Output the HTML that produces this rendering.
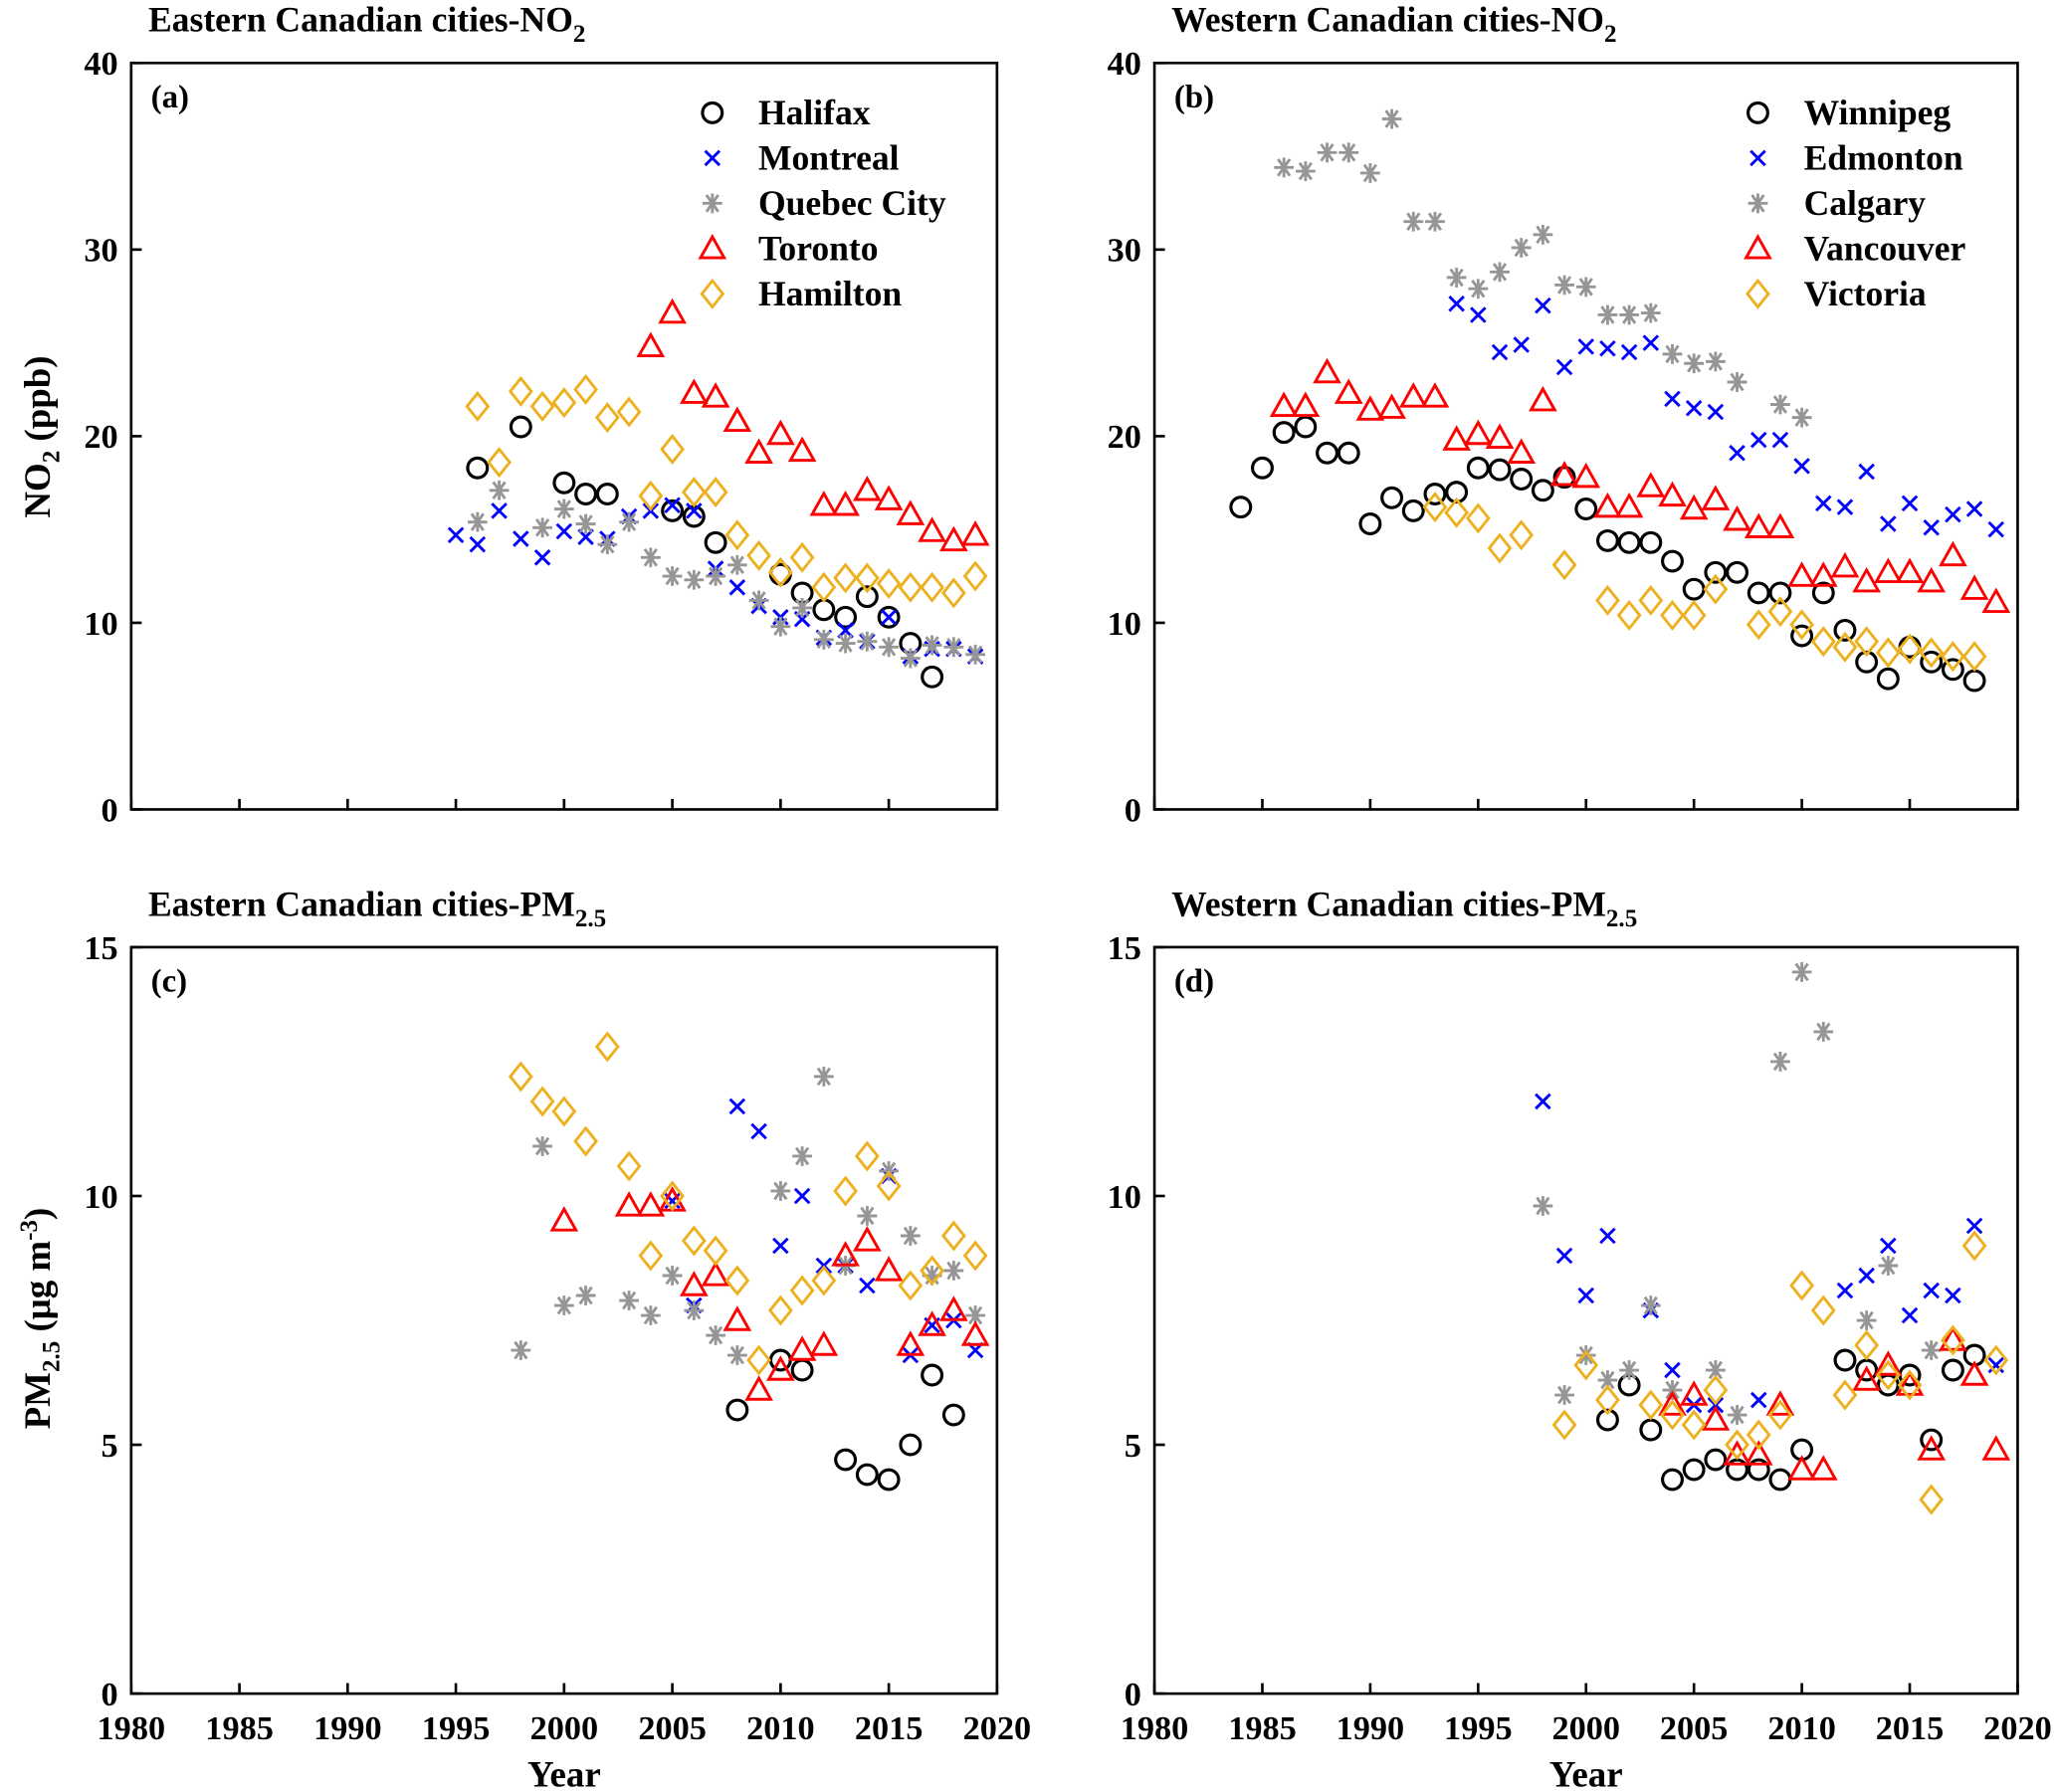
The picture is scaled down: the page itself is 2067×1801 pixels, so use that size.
<!DOCTYPE html>
<html><head><meta charset="utf-8"><style>html,body{margin:0;padding:0;background:#fff}svg{display:block}text{font-family:"Liberation Serif",serif;font-weight:bold;fill:#000}</style></head>
<body>
<svg id="chart" width="2067" height="1801" viewBox="0 0 1568 1366" preserveAspectRatio="none" xmlns="http://www.w3.org/2000/svg"></svg>
<script>
// ---- data (year, value) ----
const aYears = {
 halifax:[1996,1998,2000,2001,2002,2005,2006,2007,2010,2011,2012,2013,2014,2015,2016,2017],
 montreal:[1995,1996,1997,1998,1999,2000,2001,2002,2003,2004,2005,2006,2007,2008,2009,2010,2011,2012,2013,2014,2015,2016,2017,2018,2019],
 quebec:[1996,1997,1999,2000,2001,2002,2003,2004,2005,2006,2007,2008,2009,2010,2011,2012,2013,2014,2015,2016,2017,2018,2019],
 toronto:[2004,2005,2006,2007,2008,2009,2010,2011,2012,2013,2014,2015,2016,2017,2018,2019],
 hamilton:[1996,1997,1998,1999,2000,2001,2002,2003,2004,2005,2006,2007,2008,2009,2010,2011,2012,2013,2014,2015,2016,2017,2018,2019]};
const aVals = {
 halifax:[18.3,20.5,17.5,16.9,16.9,16.0,15.7,14.3,12.6,11.6,10.7,10.3,11.4,10.3,8.9,7.1],
 montreal:[14.7,14.2,16.0,14.5,13.5,14.9,14.6,14.5,15.7,16.0,16.3,16.0,12.9,11.9,10.9,10.3,10.2,9.2,9.6,9.0,10.3,8.2,8.6,8.6,8.2],
 quebec:[15.4,17.1,15.1,16.1,15.3,14.2,15.4,13.5,12.5,12.3,12.5,13.1,11.2,9.8,10.8,9.1,8.9,9.0,8.7,8.1,8.8,8.7,8.3],
 toronto:[24.8,26.6,22.3,22.1,20.8,19.1,20.1,19.2,16.3,16.3,17.1,16.6,15.8,14.9,14.4,14.7],
 hamilton:[21.6,18.6,22.4,21.6,21.8,22.5,21.0,21.3,16.8,19.3,17.0,17.0,14.7,13.6,12.7,13.5,11.9,12.4,12.4,12.1,11.9,11.9,11.6,12.5]};
const bYears = {
 winnipeg:[1984,1985,1986,1987,1988,1989,1990,1991,1992,1993,1994,1995,1996,1997,1998,1999,2000,2001,2002,2003,2004,2005,2006,2007,2008,2009,2010,2011,2012,2013,2014,2015,2016,2017,2018],
 edmonton:[1994,1995,1996,1997,1998,1999,2000,2001,2002,2003,2004,2005,2006,2007,2008,2009,2010,2011,2012,2013,2014,2015,2016,2017,2018,2019],
 calgary:[1986,1987,1988,1989,1990,1991,1992,1993,1994,1995,1996,1997,1998,1999,2000,2001,2002,2003,2004,2005,2006,2007,2009,2010],
 vancouver:[1986,1987,1988,1989,1990,1991,1992,1993,1994,1995,1996,1997,1998,1999,2000,2001,2002,2003,2004,2005,2006,2007,2008,2009,2010,2011,2012,2013,2014,2015,2016,2017,2018,2019],
 victoria:[1993,1994,1995,1996,1997,1999,2001,2002,2003,2004,2005,2006,2008,2009,2010,2011,2012,2013,2014,2015,2016,2017,2018]};
const bVals = {
 winnipeg:[16.2,18.3,20.2,20.5,19.1,19.1,15.3,16.7,16.0,16.9,17.0,18.3,18.2,17.7,17.1,17.8,16.1,14.4,14.3,14.3,13.3,11.8,12.7,12.7,11.6,11.6,9.3,11.6,9.6,7.9,7.0,8.7,7.9,7.5,6.9],
 edmonton:[27.1,26.5,24.5,24.9,27.0,23.7,24.8,24.7,24.5,25.0,22.0,21.5,21.3,19.1,19.8,19.8,18.4,16.4,16.2,18.1,15.3,16.4,15.1,15.8,16.1,15.0],
 calgary:[34.4,34.2,35.2,35.2,34.1,37.0,31.5,31.5,28.5,27.9,28.8,30.1,30.8,28.1,28.0,26.5,26.5,26.6,24.4,23.9,24.0,22.9,21.7,21.0],
 vancouver:[21.6,21.6,23.4,22.3,21.4,21.5,22.1,22.1,19.8,20.1,19.9,19.1,21.9,17.9,17.8,16.2,16.2,17.3,16.8,16.1,16.6,15.5,15.1,15.1,12.5,12.5,13.0,12.2,12.7,12.7,12.2,13.6,11.8,11.1],
 victoria:[16.2,15.9,15.6,14.0,14.7,13.1,11.2,10.4,11.2,10.4,10.4,11.8,9.9,10.6,9.9,9.0,8.7,9.0,8.4,8.6,8.4,8.2,8.2]};
const cYears = {
 halifax:[2008,2010,2011,2013,2014,2015,2016,2017,2018],
 montreal:[2005,2006,2008,2009,2010,2011,2012,2013,2014,2015,2016,2017,2018,2019],
 quebec:[1998,1999,2000,2001,2003,2004,2005,2006,2007,2008,2010,2011,2012,2013,2014,2015,2016,2017,2018,2019],
 toronto:[2000,2003,2004,2005,2006,2007,2008,2009,2010,2011,2012,2013,2014,2015,2016,2017,2018,2019],
 hamilton:[1998,1999,2000,2001,2002,2003,2004,2005,2006,2007,2008,2009,2010,2011,2012,2013,2014,2015,2016,2017,2018,2019]};
const cVals = {
 halifax:[5.7,6.7,6.5,4.7,4.4,4.3,5.0,6.4,5.6],
 montreal:[9.9,7.8,11.8,11.3,9.0,10.0,8.6,8.6,8.2,10.4,6.8,7.4,7.5,6.9],
 quebec:[6.9,11.0,7.8,8.0,7.9,7.6,8.4,7.7,7.2,6.8,10.1,10.8,12.4,8.6,9.6,10.5,9.2,8.4,8.5,7.6],
 toronto:[9.5,9.8,9.8,9.9,8.2,8.4,7.5,6.1,6.5,6.9,7.0,8.8,9.1,8.5,7.0,7.4,7.7,7.2],
 hamilton:[12.4,11.9,11.7,11.1,13.0,10.6,8.8,10.0,9.1,8.9,8.3,6.7,7.7,8.1,8.3,10.1,10.8,10.2,8.2,8.5,9.2,8.8]};
const dYears = {
 winnipeg:[2001,2002,2003,2004,2005,2006,2007,2008,2009,2010,2012,2013,2014,2015,2016,2017,2018],
 edmonton:[1998,1999,2000,2001,2003,2004,2005,2006,2008,2012,2013,2014,2015,2016,2017,2018,2019],
 calgary:[1998,1999,2000,2001,2002,2003,2004,2006,2007,2009,2010,2011,2013,2014,2016],
 vancouver:[2004,2005,2006,2007,2008,2009,2010,2011,2013,2014,2015,2016,2017,2018,2019],
 victoria:[1999,2000,2001,2003,2004,2005,2006,2007,2008,2009,2010,2011,2012,2013,2014,2015,2016,2017,2018,2019]};
const dVals = {
 winnipeg:[5.5,6.2,5.3,4.3,4.5,4.7,4.5,4.5,4.3,4.9,6.7,6.5,6.2,6.4,5.1,6.5,6.8],
 edmonton:[11.9,8.8,8.0,9.2,7.7,6.5,5.8,5.8,5.9,8.1,8.4,9.0,7.6,8.1,8.0,9.4,6.6],
 calgary:[9.8,6.0,6.8,6.3,6.5,7.8,6.1,6.5,5.6,12.7,14.5,13.3,7.5,8.6,6.9],
 vancouver:[5.8,6.0,5.5,4.8,4.8,5.8,4.5,4.5,6.3,6.6,6.2,4.9,7.1,6.4,4.9],
 victoria:[5.4,6.6,5.9,5.8,5.6,5.4,6.1,5.0,5.2,5.6,8.2,7.7,6.0,7.0,6.4,6.2,3.9,7.1,9.0,6.7]};
const xTicks = [1980,1985,1990,1995,2000,2005,2010,2015,2020];
const no2Ticks = [0,10,20,30,40];
const pmTicks = [0,5,10,15];
const eastNames = ["Halifax","Montreal","Quebec City","Toronto","Hamilton"];
const westNames = ["Winnipeg","Edmonton","Calgary","Vancouver","Victoria"];

const NS="http://www.w3.org/2000/svg";
const svg=document.getElementById('chart');
function mk(tag,attrs,parent){const e=document.createElementNS(NS,tag);for(const k in attrs)e.setAttribute(k,attrs[k]);(parent||svg).appendChild(e);return e;}
function txt(s,x,y,size,anchor,parent){const t=mk('text',{x:x,y:y,'font-size':size,'text-anchor':anchor||'start'},parent);t.innerHTML=s;return t;}

function marker(type,cx,cy,g){
  let e;
  if(type==='circle'){e=mk('circle',{cx:cx,cy:cy,r:7.5,fill:'none',stroke:'#000','stroke-width':2.4},g);}
  else if(type==='x'){const s=5.5;e=mk('path',{d:`M${cx-s},${cy-s}L${cx+s},${cy+s}M${cx-s},${cy+s}L${cx+s},${cy-s}`,stroke:'#0000ff','stroke-width':2.2,fill:'none'},g);}
  else if(type==='star'){const s=7.5;e=mk('path',{d:`M${cx-s},${cy}L${cx+s},${cy}M${cx-s*0.6},${cy-s*0.85}L${cx+s*0.6},${cy+s*0.85}M${cx-s*0.6},${cy+s*0.85}L${cx+s*0.6},${cy-s*0.85}M${cx},${cy-s}L${cx},${cy+s}`,stroke:'#969696','stroke-width':2.2,fill:'none'},g);}
  else if(type==='tri'){e=mk('path',{d:`M${cx},${cy-9}L${cx+9},${cy+7}L${cx-9},${cy+7}Z`,stroke:'#ff0000','stroke-width':2.2,fill:'none'},g);}
  else {e=mk('path',{d:`M${cx},${cy-10}L${cx+8},${cy}L${cx},${cy+10}L${cx-8},${cy}Z`,stroke:'#edb120','stroke-width':2.2,fill:'none'},g);}
  return e;
}
const types=['circle','x','star','tri','diamond'];

function panel(opt){
  const {name,x0,x1,y0,y1,ymax,yticks,years,vals,keys,label,title,legend,showXLabels}=opt;
  const g=mk('g',{});
  
  
  const X=v=>x0+(v-1980)/40*(x1-x0);
  const Y=v=>y0-(v/ymax)*(y0-y1);
  const box=mk('rect',{x:x0,y:y1,width:x1-x0,height:y0-y1,fill:'none',stroke:'#000','stroke-width':2},g);
  
  
  xTicks.forEach(t=>{
    mk('line',{x1:X(t),x2:X(t),y1:y0,y2:y0-8,stroke:'#000','stroke-width':2},g);
    if(showXLabels){const l=txt(String(t),X(t),y0+35,26,'middle',g);
      
      }
  });
  yticks.forEach(t=>{
    mk('line',{x1:x0,x2:x0+8,y1:Y(t),y2:Y(t),stroke:'#000','stroke-width':2},g);
    const l=txt(String(t),x0-10,Y(t)+9,26,'end',g);
    
    
  });
  const pl=txt(label,x0+15,y1+34,25,'start',g);
  
  
  const tt=txt(title,x0+13,y1-24,27,'start',g);
  
  
  keys.forEach((k,i)=>{
    const sg=mk('g',{},g);
    
    
    years[k].forEach((yr,j)=>{
      const m=marker(types[i],X(yr),Y(vals[k][j]),sg);
      
      
    });
  });
  if(legend){
    const lg=mk('g',{},g);
    
    
    legend.names.forEach((n,i)=>{
      const yy=y1+38+i*34.5;
      marker(types[i],legend.mx,yy,lg);
      const t=txt(n,legend.mx+35,yy+9,27,'start',lg);
      
      
    });
  }
}
const eKeys=['halifax','montreal','quebec','toronto','hamilton'];
const wKeys=['winnipeg','edmonton','calgary','vancouver','victoria'];
panel({name:'panel-a',x0:100,x1:760,y0:617,y1:48,ymax:40,yticks:no2Ticks,years:aYears,vals:aVals,keys:eKeys,label:'(a)',title:'Eastern Canadian cities-NO<tspan font-size="19" dy="8">2</tspan>',legend:{mx:543,names:eastNames},showXLabels:false});
panel({name:'panel-b',x0:880,x1:1538,y0:617,y1:48,ymax:40,yticks:no2Ticks,years:bYears,vals:bVals,keys:wKeys,label:'(b)',title:'Western Canadian cities-NO<tspan font-size="19" dy="8">2</tspan>',legend:{mx:1340,names:westNames},showXLabels:false});
panel({name:'panel-c',x0:100,x1:760,y0:1291,y1:722,ymax:15,yticks:pmTicks,years:cYears,vals:cVals,keys:eKeys,label:'(c)',title:'Eastern Canadian cities-PM<tspan font-size="19" dy="8">2.5</tspan>',legend:null,showXLabels:true});
panel({name:'panel-d',x0:880,x1:1538,y0:1291,y1:722,ymax:15,yticks:pmTicks,years:dYears,vals:dVals,keys:wKeys,label:'(d)',title:'Western Canadian cities-PM<tspan font-size="19" dy="8">2.5</tspan>',legend:null,showXLabels:true});

// axis titles
let t=txt('NO<tspan font-size="19" dy="7">2</tspan><tspan dy="-7"> (ppb)</tspan>',0,0,28,'middle');
t.setAttribute('transform','translate(38,333) rotate(-90)');


t=txt('PM<tspan font-size="19" dy="7">2.5</tspan><tspan dy="-7"> (μg m</tspan><tspan font-size="19" dy="-10">-3</tspan><tspan dy="10">)</tspan>',0,0,28,'middle');
t.setAttribute('transform','translate(38,1005) rotate(-90)');


t=txt('Year',430,1362,28,'middle');


t=txt('Year',1209,1362,28,'middle');


</script>
</body></html>
